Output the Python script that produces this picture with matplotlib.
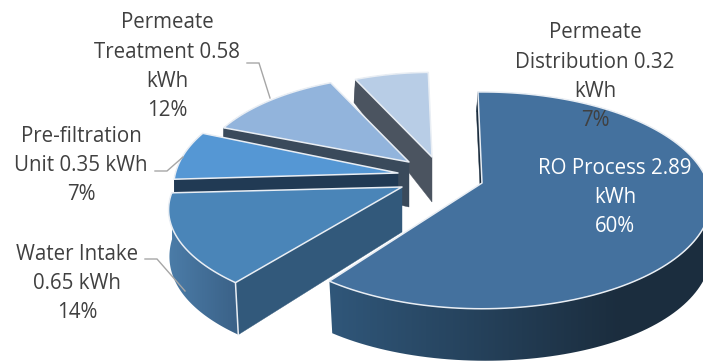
import numpy as np
import matplotlib
matplotlib.use("Agg")
import matplotlib.pyplot as plt
from matplotlib.patches import Polygon
from matplotlib.colors import LinearSegmentedColormap

# Energy use per stage, kWh
stages = ["RO Process", "Water Intake", "Pre-filtration Unit", "Permeate Treatment", "Permeate Distribution"]
energy = [2.89, 0.65, 0.35, 0.58, 0.32]
label_text = [
    "RO Process 2.89\nkWh",
    "Water Intake\n0.65 kWh",
    "Pre-filtration\nUnit 0.35 kWh",
    "Permeate\nTreatment 0.58\nkWh",
    "Permeate\nDistribution 0.32\nkWh",
]

# Per-slice styling: top colour, radial face colour, rim colours (left, right)
top_colors = ["#44719e", "#4a85b8", "#5597d4", "#92b4dc", "#b8cde6"]
face_colors = ["#1b2d3e", "#32597b", "#213a54", "#3a4a5b", "#4b5460"]
rim_colors = [("#30577a", "#1b2d3e"), ("#4b7ca8", "#3b6288"),
              ("#213a54", "#213a54"), ("#3a4a5b", "#3a4a5b"), ("#4b5460", "#4b5460")]
# Exploded apex of each slice and its projection tweaks (x scale, y scale, perspective, skew)
apex = [(482, 183), (402, 187), (398, 173), (409, 162), (432, 157)]
scale_x = [1.0, 1.0, 0.98, 0.93, 0.91]
scale_y = [0.99, 0.90, 1.0, 0.94, 0.92]
persp = [0.16, 0.25, 0.16, 0.16, 0.16]
skew = [0.0, 3.0, 3.5, 0.0, 0.0]
rim_span = [(328, 620), (169, 236), (170, 210), (220, 340), (355, 432)]
label_pos = [(615, 168), (77, 254), (81, 136), (167, 23), (595, 33)]
label_color = ["white", "#404040", "#404040", "#404040", "#404040"]
leaders = [
    [(247, 63), (259, 63), (270, 98)],
    [(155, 171), (167, 171), (183, 157)],
    [(145, 259), (157, 259), (185, 291)],
]

RADIUS_X, RADIUS_Y = 226.0, 106.7
FIRST_ANGLE = -1.2
LINE_H = 29.3


def project(theta, i):
    """Tilted-disc position (pixels) for a clockwise angle from the top."""
    t = np.radians(theta)
    u, v = np.sin(t), np.cos(t)
    d = 1 + persp[i] * v
    return (apex[i][0] + scale_x[i] * RADIUS_X * u / d,
            apex[i][1] - scale_y[i] * RADIUS_Y * v / d + skew[i] * u, v)


def drop(x, y, v):
    """Lower edge of the slab below a point on the top surface."""
    v = np.asarray(v, dtype=float)
    thick = 45 - 16 * v - 9 * v ** 2
    shift = np.where(v < 0, -3.5 * v, -1.5 * v)
    return x + shift, y + thick


fig = plt.figure(figsize=(7.03, 3.61), dpi=100)
ax = fig.add_axes([0, 0, 1, 1])
ax.set_xlim(0, 703)
ax.set_ylim(361, 0)
ax.autoscale(False)
ax.axis("off")

total = sum(energy)
sweeps = [e / total * 360 for e in energy]
starts = FIRST_ANGLE + np.concatenate([[0], np.cumsum(sweeps)[:-1]])
EDGE = "#e9eef4"

# Painted from the far slices to the near ones
z = 2
for i in [4, 3, 2, 1, 0]:
    th = np.linspace(starts[i], starts[i] + sweeps[i], 140)
    x, y, v = project(th, i)
    xb, yb = drop(x, y, v)

    # Outer rim: a horizontal gradient clipped to the band under the arc
    lo, hi = rim_span[i]
    outline = list(zip(x, y)) + list(zip(xb[::-1], yb[::-1]))
    rim = Polygon(outline, closed=True, transform=ax.transData, facecolor="none", edgecolor="none")
    ax.add_patch(rim)
    cmap = LinearSegmentedColormap.from_list("rim", rim_colors[i])
    img = ax.imshow(np.linspace(0, 1, 256)[None, :], cmap=cmap, aspect="auto",
                    extent=(lo, hi, 361, 0), zorder=z, interpolation="bilinear")
    # Beyond the gradient span the end colours carry on
    for xa, xe, val in [(-50, lo, 0.0), (hi, 800, 1.0)]:
        pad = ax.imshow([[val]], cmap=cmap, vmin=0, vmax=1, aspect="auto",
                        extent=(xa, xe, 361, 0), zorder=z)
        pad.set_clip_path(rim)
    img.set_clip_path(rim)
    z += 1

    # Radial face at the start of the slice
    ax0, ay0 = apex[i]
    axb, ayb = drop(np.array(ax0, float), np.array(ay0, float), 0.0)
    face = [(x[0], y[0]), (ax0, ay0), (axb, ayb), (xb[0], yb[0])]
    ax.add_patch(Polygon(face, closed=True, facecolor=face_colors[i], edgecolor=face_colors[i],
                         linewidth=0.3, zorder=z))
    z += 1

    # The nearest visible corner of the water-intake slice keeps a light seam
    if stages[i] == "Water Intake":
        ax.plot([x[0], xb[0]], [y[0], yb[0]], color=EDGE, lw=1.1, zorder=z)

    # Top surface
    top = [(ax0, ay0)] + list(zip(x, y))
    ax.add_patch(Polygon(top, closed=True, facecolor=top_colors[i], edgecolor=EDGE, linewidth=1.1,
                         joinstyle="round", zorder=z))
    z += 1

for pts in leaders:
    px, py = zip(*pts)
    ax.plot(px, py, color="#a6a6a6", lw=1.0, solid_joinstyle="miter", zorder=z)

for i in range(len(energy)):
    pct = f"{round(energy[i] / total * 100)}%"
    lines = (label_text[i] + "\n" + pct).split("\n")
    lx, ly = label_pos[i]
    for n, line in enumerate(lines):
        ax.text(lx, ly + n * LINE_H, line, ha="center", va="center", color=label_color[i],
                family="Open Sans", fontsize=14.8, zorder=z + 1)

fig.savefig("out.png", dpi=100)
